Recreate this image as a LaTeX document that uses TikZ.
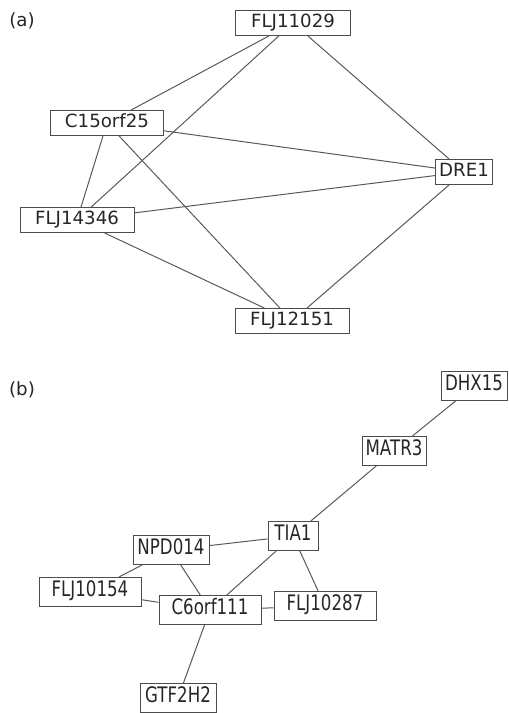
\documentclass[tikz,border=0pt]{standalone}
\usepackage{fontspec}
\setmainfont{DejaVu Sans}
\newfontfamily\narrowfont[FakeStretch=0.78]{DejaVu Sans}
\usetikzlibrary{positioning}

\begin{document}
\begin{tikzpicture}[
        x = 0.75pt, y = -0.75pt,
        gene/.style = {
            draw = black!70,
            rectangle,
            line width = 0.75pt,
            minimum width = #1*0.75pt,
            minimum height = 18.75pt,
            inner sep = 0pt,
            text height = 0.73em,
            text depth = 0pt,
            text = black!85,
            font = \fontsize{13.65}{16}\selectfont
        },
        gene/.default = 114,
        geneb/.style = {
            gene = #1,
            minimum height = 21.75pt,
            font = \narrowfont\fontsize{16}{19}\selectfont
        },
        geneb/.default = 102,
        link/.style = {draw = black!65, line width = 0.75pt},
        panel/.style = {text = black!85, font = \fontsize{13.65}{16}\selectfont}
    ]
    \useasboundingbox (0,0) rectangle (508,713);
    % (a)
    \node[panel] (pa) at (22,21) {(a)};
    \node[gene=115] (a1) at (293,23) {FLJ11029};
    \node[gene=113] (a2) at (107,123) {C15orf25};
    \node[gene=57] (a3) at (464,172) {DRE1};
    \node[gene] (a4) at (77,220) {FLJ14346};
    \node[gene] (a5) at (292,321) {FLJ12151};
    \draw[link] (a1) -- (a2);
    \draw[link] (a1) -- (a4);
    \draw[link] (a1) -- (a3);
    \draw[link] (a2) -- (a3);
    \draw[link] (a2) -- (a4);
    \draw[link] (a2) -- (a5);
    \draw[link] (a4) -- (a3);
    \draw[link] (a4) -- (a5);
    \draw[link] (a3) -- (a5);
    % (b)
    \node[panel] (pb) at (22,390) {(b)};
    \node[geneb=66] (b1) at (474,386) {DHX15};
    \node[geneb=64] (b2) at (394,451) {MATR3};
    \node[geneb=50] (b3) at (293,536) {TIA1};
    \node[geneb=76] (b4) at (171,550) {NPD014};
    \node[geneb] (b5) at (90,592) {FLJ10154};
    \node[geneb] (b6) at (210,610) {C6orf111};
    \node[geneb] (b7) at (325,606) {FLJ10287};
    \node[geneb=76] (b8) at (178,698) {GTF2H2};
    \draw[link] (b1) -- (b2);
    \draw[link] (b2) -- (b3);
    \draw[link] (b3) -- (b4);
    \draw[link] (b3) -- (b6);
    \draw[link] (b3) -- (b7);
    \draw[link] (b4) -- (b5);
    \draw[link] (b4) -- (b6);
    \draw[link] (b5) -- (b6);
    \draw[link] (b6) -- (b7);
    \draw[link] (b6) -- (b8);
\end{tikzpicture}
\end{document}
